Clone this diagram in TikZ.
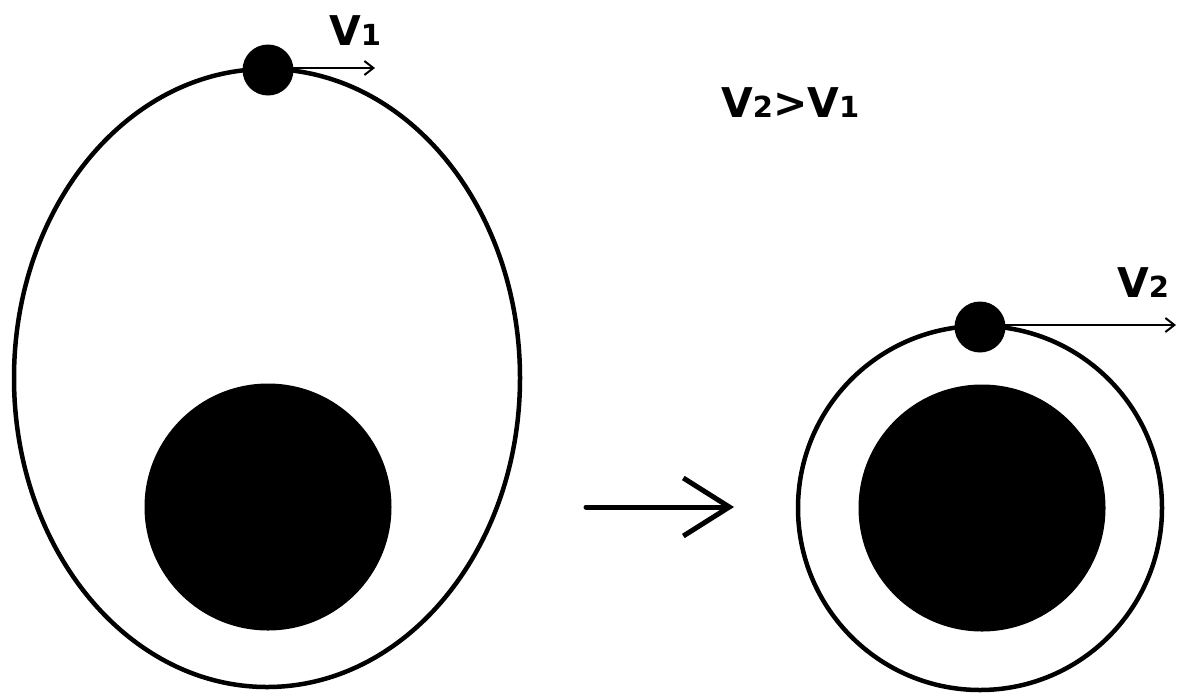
\documentclass[tikz,border=0pt]{standalone}
\usepackage{fontspec}
\setmainfont{DejaVu Sans}
\usetikzlibrary{arrows.meta,shapes.geometric}
\newcommand{\subdigit}[1]{{\fontsize{29}{30}\selectfont #1}}
\begin{document}
\begin{tikzpicture}[x=1pt,y=-1pt,
  orbit/.style={draw=black,line width=4.5pt,inner sep=0pt},
  planet/.style={circle,fill=black,inner sep=0pt,minimum size=247pt},
  moon/.style={circle,fill=black,inner sep=0pt,minimum size=51pt},
  vel/.style={line width=2pt,-{Straight Barb[length=9pt,width=14pt,line width=2pt]}},
  lbl/.style={font=\fontsize{41}{43}\selectfont\bfseries,inner sep=0pt,anchor=base west}]
\useasboundingbox (0,0) rectangle (1185,694);
% left system
\node[orbit,ellipse,minimum width=506pt,minimum height=618pt] (orbitA) at (267,378) {};
\node[planet] (planetA) at (268,507) {};
\node[moon] (moonA) at (268,70) {};
\coordinate (tipA) at (375,68);
\draw[vel] (moonA.center) ++(20,-2) coordinate (startA) (startA) -- (tipA);
\node[lbl] (labA) at (329,45) {V\subdigit{1}};
% relation
\node[lbl] (rel) at (721,117) {V\subdigit{2}>V\subdigit{1}};
% transition arrow
\coordinate (trS) at (586,507);
\coordinate (trE) at (734,507);
\draw[line width=5pt,line cap=round,-{Straight Barb[length=46pt,width=58pt,line width=5pt]}] (trS) -- (trE);
% right system
\node[orbit,circle,minimum size=364pt] (orbitB) at (980,508) {};
\node[planet] (planetB) at (982,508) {};
\node[moon] (moonB) at (980,327) {};
\coordinate (tipB) at (1176,325);
\draw[vel] (moonB.center) ++(20,-2) coordinate (startB) (startB) -- (tipB);
\node[lbl] (labB) at (1117,297) {V\subdigit{2}};
\end{tikzpicture}
\end{document}
